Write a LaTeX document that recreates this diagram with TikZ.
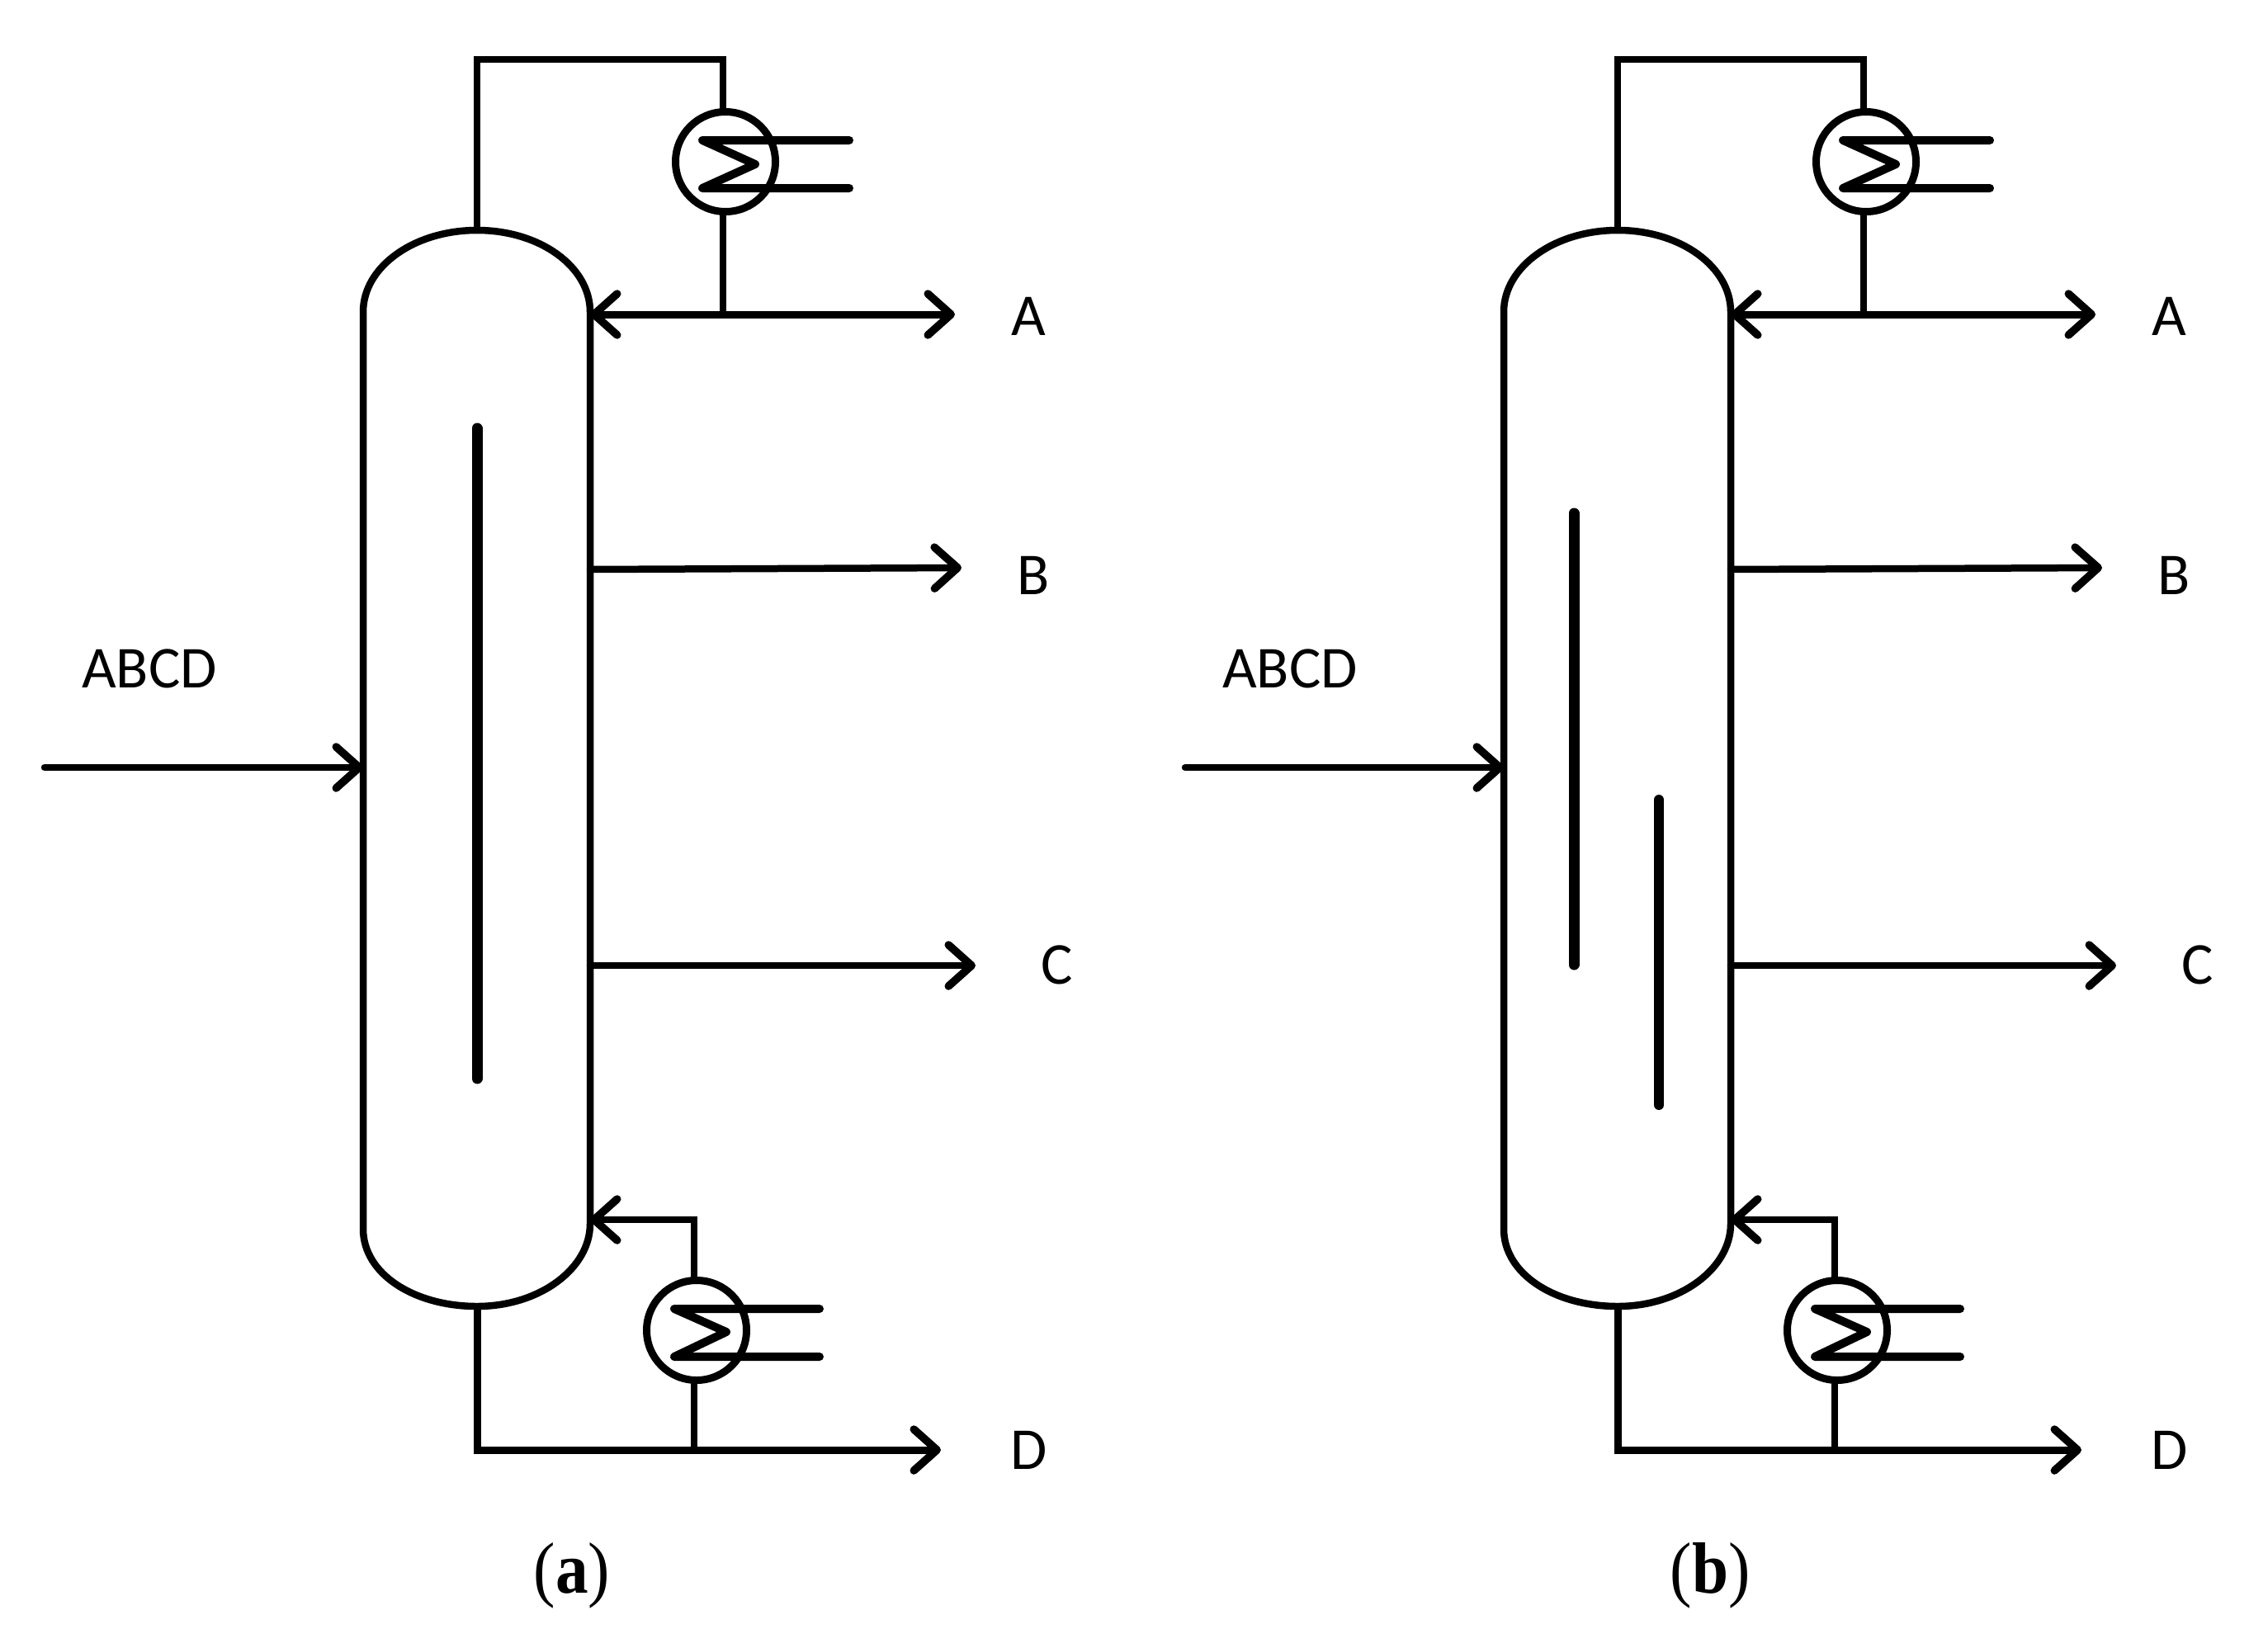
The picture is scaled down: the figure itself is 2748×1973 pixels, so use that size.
\documentclass[tikz,border=0pt]{standalone}
\usepackage{fontspec}
\setmainfont{Carlito}
\newfontfamily\capfont{Liberation Serif}
\usetikzlibrary{arrows.meta}
\tikzset{
  x=1pt,y=-1pt,
  pipe/.style={line width=8.5pt,line join=miter,black},
  headtip/.tip={Straight Barb[length=28pt,width=50pt,line width=9.5pt,round]},
  flow/.style={pipe,-{headtip},line cap=round},
  vessel/.style={line width=8.5pt,black},
  wall/.style={line width=13pt,line cap=round,black},
  exchanger/.style={circle,draw,line width=9pt,minimum size=121pt,inner sep=0pt,outer sep=0pt},
  tubes/.style={line width=10pt,line cap=round,line join=round,black},
  stream/.style={anchor=base,inner sep=0pt,font=\fontsize{72}{80}\selectfont},
  caption/.style={anchor=base,inner sep=0pt,xscale=0.9,transform shape,font=\capfont\fontsize{88}{100}\selectfont}
}
\newcommand{\columnunit}[2]{%
\begin{scope}[shift={(#2,0)},name prefix=#1-]
  % vessel
  \coordinate (dl) at (440,378);
  \coordinate (dr) at (715,378);
  \coordinate (top) at (578,279);
  \coordinate (rf) at (715,381);
  \coordinate (rfb) at (715,1483);
  \coordinate (bl) at (440,1489);
  \coordinate (bot) at (578,1583);
  \draw[vessel] (dl) .. controls (440,323) and (502,279) .. (top)
     .. controls (654,279) and (715,323) .. (dr) -- (rfb)
     .. controls (715,1537) and (654,1583) .. (bot)
     .. controls (502,1583) and (440,1544) .. (bl) -- cycle;
  % overhead
  \node[exchanger] (cond) at (879,196) {};
  \coordinate (tr) at (876,72);
  \coordinate (tl) at (578,72);
  \coordinate (ja) at (876,381);
  \draw[pipe] (top) -- (tl) -- (tr) -- (tr |- cond.north);
  \draw[pipe] (ja |- cond.south) -- (ja);
  \coordinate (ca) at (1029,170);
  \coordinate (cb) at (851,170);
  \coordinate (cc) at (915,199);
  \coordinate (cd) at (851,228);
  \coordinate (ce) at (1029,228);
  \draw[tubes] (ca) -- (cb) -- (cc) -- (cd) -- (ce);
  % product A
  \coordinate (ea) at (1157,381);
  \draw[pipe,line width=9pt,{headtip}-{headtip}] (rf) -- (ea);
  \node[stream] (la) at (1246,406) {A};
  % product B
  \coordinate (sb) at (715,690);
  \coordinate (eb) at (1165,688);
  \draw[flow] (sb) -- (eb);
  \node[stream] (lb) at (1252,720) {B};
  % product C
  \coordinate (sc) at (715,1170);
  \coordinate (ec) at (1182,1170);
  \draw[flow] (sc) -- (ec);
  \node[stream] (lc) at (1281,1192) {C};
  % feed
  \coordinate (sf) at (54,930);
  \coordinate (ef) at (440,930);
  \draw[flow] (sf) -- (ef);
  \node[stream] (lf) at (181,833) {ABCD};
  % bottoms
  \node[exchanger] (reb) at (844,1612) {};
  \coordinate (jd) at (841,1757);
  \coordinate (jr) at (841,1478);
  \coordinate (dbl) at (578,1757);
  \coordinate (ed) at (1140,1757);
  \draw[pipe,line width=9pt,-{headtip}] (bot) -- (dbl) -- (ed);
  \draw[pipe] (jd) -- (jd |- reb.south);
  \draw[pipe,-{headtip}] (jr |- reb.north) -- (jr) -- (715,1478);
  \coordinate (ra) at (993,1586);
  \coordinate (rb) at (817,1586);
  \coordinate (rc) at (880,1614);
  \coordinate (rd) at (817,1644);
  \coordinate (re) at (993,1644);
  \draw[tubes] (ra) -- (rb) -- (rc) -- (rd) -- (re);
  \node[stream] (ld) at (1247,1780) {D};
\end{scope}}
\begin{document}
\begin{tikzpicture}
  \useasboundingbox (0,0) rectangle (2748,1973);
  \fill[white] (0,0) rectangle (2748,1973);
  \columnunit{a}{0}
  \columnunit{b}{1382}
  % dividing walls
  \coordinate (wa1) at (578,519);
  \coordinate (wa2) at (578,1307);
  \draw[wall] (wa1) -- (wa2);
  \coordinate (wb1) at (1907,622);
  \coordinate (wb2) at (1907,1169);
  \draw[wall] (wb1) -- (wb2);
  \coordinate (wc1) at (2010,969);
  \coordinate (wc2) at (2010,1339);
  \draw[wall,line width=12pt] (wc1) -- (wc2);
  \node[caption] (capa) at (693,1930) {(\textbf{a})};
  \node[caption] (capb) at (2072,1930) {(\textbf{b})};
\end{tikzpicture}
\end{document}
